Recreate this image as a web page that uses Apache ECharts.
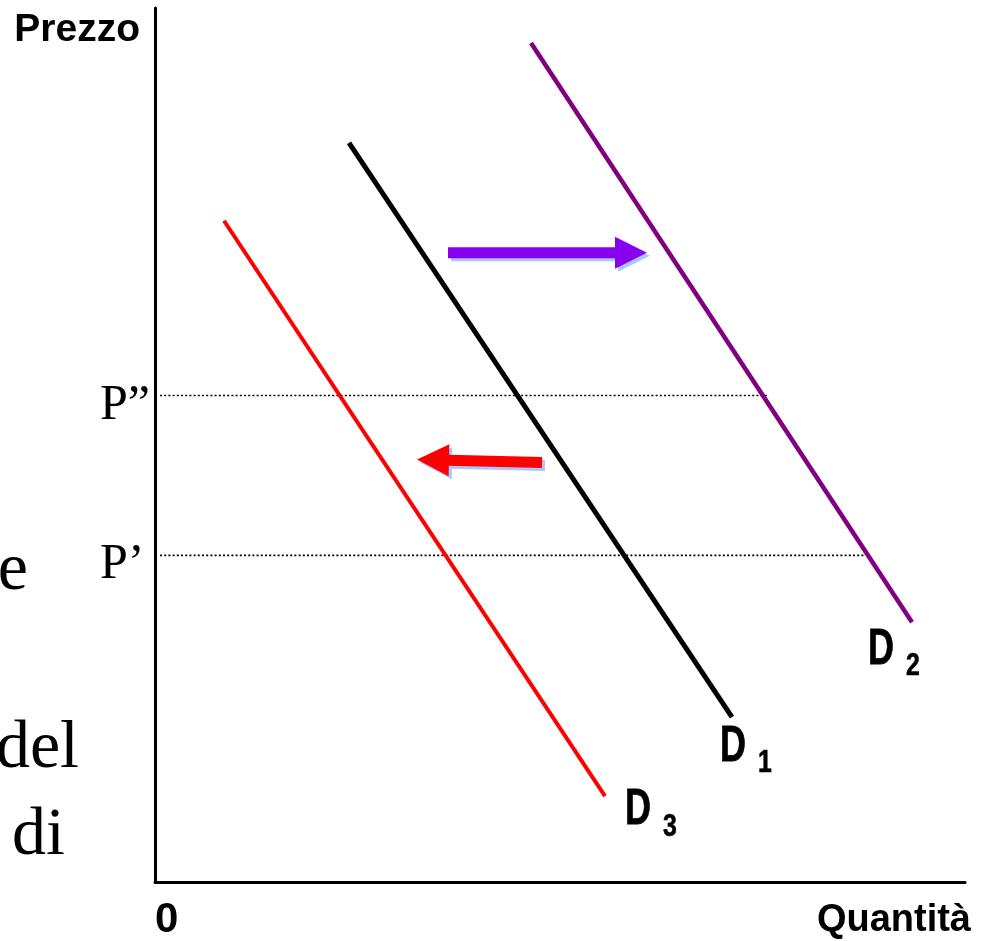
<!DOCTYPE html>
<html>
<head>
<meta charset="utf-8">
<title>Domanda: spostamenti della curva</title>
<script src="https://cdn.jsdelivr.net/npm/echarts@6/dist/echarts.min.js"></script>
<style>
  html, body { margin: 0; padding: 0; background: #ffffff; }
  #chart { width: 986px; height: 941px; }
</style>
</head>
<body>
<div id="chart"></div>
<script>
// Demand curves as [quantità, prezzo] end points
const demandD1 = [[194, 740], [577, 165]];
const demandD2 = [[376, 840], [757, 260]];
const demandD3 = [[69, 662], [450, 86]];
const curveSubscripts = ['1', '2', '3'];

// Price levels marked on the vertical axis
const priceLevels = [327, 487];
const priceLabels = ['P\u2019', 'P\u201D'];
const priceLineStart = 5;
const priceLineEnds = [710, 613];

// Shift arrows: [fromQ, fromP, toQ, toP]
const shiftRight = [293, 630, 492, 630];
const shiftLeft = [387, 420, 262, 423];

// Axis extents
const qMax = 810;
const pMax = 875;

const chart = echarts.init(document.getElementById('chart'));

const sansBold = "'Liberation Sans', Arial, sans-serif";
const serif = "'Liberation Serif', 'Times New Roman', serif";

const curves = [demandD1, demandD2, demandD3];
const curveColors = ['#000000', '#800080', '#ff0000'];
const curveWidths = [5, 4.5, 4];
// pixel offset of the "D" label from the lower end of each curve
const labelOffsets = [[-12, 30], [-44, 27.5], [20, 14.5]];

function curveSeries(i) {
  return {
    name: 'D' + curveSubscripts[i],
    type: 'line',
    data: curves[i],
    symbol: 'none',
    silent: true,
    lineStyle: { color: curveColors[i], width: curveWidths[i], cap: 'butt' },
    z: 3
  };
}

// "D" with subscript, drawn in a condensed bold face next to each curve end
const curveLabelSeries = {
  type: 'custom',
  silent: true,
  z: 5,
  data: curves.map((c, i) => [c[c.length - 1][0], c[c.length - 1][1], i]),
  renderItem: function (params, api) {
    const i = api.value(2);
    const pt = api.coord([api.value(0), api.value(1)]);
    const off = labelOffsets[i];
    const x = pt[0] + off[0], y = pt[1] + off[1];
    return {
      type: 'group',
      children: [
        { type: 'text', x: x, y: y, scaleX: 0.72,
          style: { text: 'D', font: 'bold 50px ' + sansBold, fill: '#000', stroke: '#000', lineWidth: 0.8, align: 'left', verticalAlign: 'middle' } },
        { type: 'text', x: x + 38, y: y + 16.5, scaleX: 0.8,
          style: { text: curveSubscripts[i], font: 'bold 31px ' + sansBold, fill: '#000', stroke: '#000', lineWidth: 0.6, align: 'left', verticalAlign: 'middle' } }
      ]
    };
  }
};

function priceSeries(i) {
  return {
    type: 'line',
    data: [[priceLineStart, priceLevels[i]], [priceLineEnds[i], priceLevels[i]]],
    symbol: 'none',
    silent: true,
    lineStyle: { color: '#000', width: 1.6, type: [2, 2.2] },
    z: 2
  };
}

function arrowSeries(arrow, color) {
  return {
    type: 'custom',
    silent: true,
    data: [arrow],
    z: 4,
    renderItem: function (params, api) {
      const a = api.coord([api.value(0), api.value(1)]);
      const b = api.coord([api.value(2), api.value(3)]);
      const dx = b[0] - a[0], dy = b[1] - a[1];
      const len = Math.sqrt(dx * dx + dy * dy);
      const ux = dx / len, uy = dy / len;
      const nx = -uy, ny = ux;
      const shaftHalf = 5.5, headLen = 32, headHalf = 16;
      const hb = [b[0] - ux * headLen, b[1] - uy * headLen];
      const pts = [
        [a[0] + nx * shaftHalf, a[1] + ny * shaftHalf],
        [hb[0] + nx * shaftHalf, hb[1] + ny * shaftHalf],
        [hb[0] + nx * headHalf, hb[1] + ny * headHalf],
        b,
        [hb[0] - nx * headHalf, hb[1] - ny * headHalf],
        [hb[0] - nx * shaftHalf, hb[1] - ny * shaftHalf],
        [a[0] - nx * shaftHalf, a[1] - ny * shaftHalf]
      ];
      return {
        type: 'group',
        children: [
          { type: 'polygon', x: 3, y: 3, shape: { points: pts }, style: { fill: '#a9c6ff' } },
          { type: 'polygon', shape: { points: pts }, style: { fill: color } }
        ]
      };
    }
  };
}

const option = {
  backgroundColor: '#ffffff',
  animation: false,
  grid: { left: 155, top: 8, width: 810, height: 875, containLabel: false },
  xAxis: {
    type: 'value',
    min: 0,
    max: qMax,
    interval: qMax,
    name: 'Quantit\u00E0',
    nameLocation: 'end',
    nameGap: 6,
    nameTextStyle: { fontFamily: sansBold, fontWeight: 'bold', fontSize: 38, color: '#000', align: 'right', verticalAlign: 'top', padding: [20, 0, 0, 0] },
    axisLine: { show: true, onZero: false, lineStyle: { color: '#000', width: 3 } },
    axisTick: { show: false },
    splitLine: { show: false },
    axisLabel: {
      show: true,
      formatter: v => (v === 0 ? '0' : ''),
      fontFamily: sansBold, fontWeight: 'bold', fontSize: 42, color: '#000',
      align: 'left', margin: 17
    }
  },
  yAxis: {
    type: 'value',
    min: 0,
    max: pMax,
    name: 'Prezzo',
    nameLocation: 'end',
    nameGap: -22,
    nameTextStyle: { fontFamily: sansBold, fontWeight: 'bold', fontSize: 39, color: '#000', align: 'right', verticalAlign: 'middle', padding: [8, 15, 0, 0] },
    axisLine: { show: true, onZero: false, lineStyle: { color: '#000', width: 3 } },
    axisTick: { show: false },
    splitLine: { show: false },
    axisLabel: {
      show: true,
      customValues: priceLevels,
      formatter: v => priceLabels[priceLevels.indexOf(v)] || '',
      fontFamily: serif, fontSize: 50, color: '#000',
      align: 'left',
      verticalAlign: 'top',
      lineHeight: 20,
      margin: 55
    }
  },
  graphic: [
    { type: 'text', x: 28, y: 571, style: { text: 'e', font: "68px " + serif, fill: '#000', align: 'right', verticalAlign: 'middle' } },
    { type: 'text', x: 79, y: 749, style: { text: 'del', font: "68px " + serif, fill: '#000', align: 'right', verticalAlign: 'middle' } },
    { type: 'text', x: 65, y: 836, style: { text: 'di', font: "68px " + serif, fill: '#000', align: 'right', verticalAlign: 'middle' } }
  ],
  series: [
    priceSeries(0),
    priceSeries(1),
    curveSeries(0),
    curveSeries(1),
    curveSeries(2),
    curveLabelSeries,
    arrowSeries(shiftRight, '#8800f0'),
    arrowSeries(shiftLeft, '#ff0000')
  ]
};

chart.setOption(option);
</script>
</body>
</html>
